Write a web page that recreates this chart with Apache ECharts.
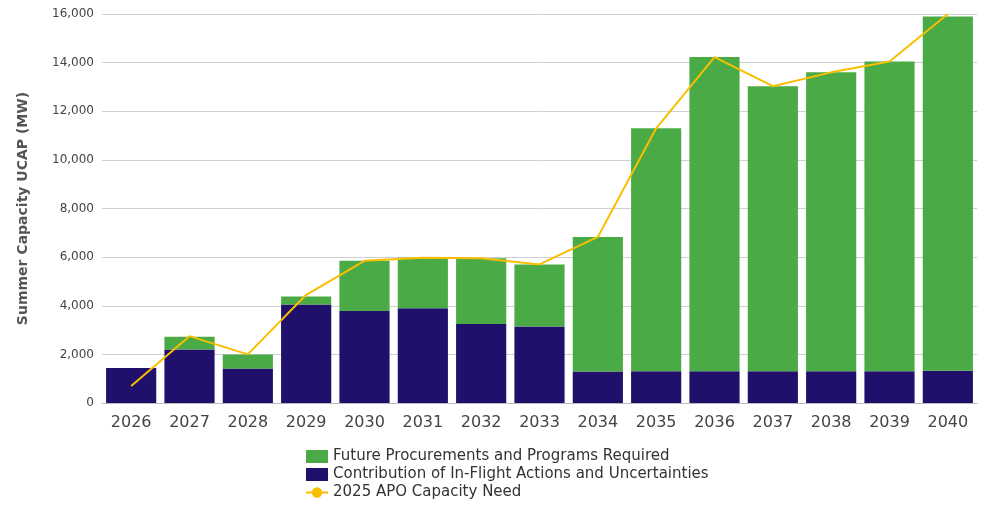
<!DOCTYPE html>
<html><head><meta charset="utf-8">
<script src="https://cdn.jsdelivr.net/npm/echarts@6/dist/echarts.min.js"></script>
<style>html,body{margin:0;padding:0;background:#fff}#c{width:991px;height:519px}</style>
</head><body><div id="c"></div>
<script>
const years = ['2026','2027','2028','2029','2030','2031','2032','2033','2034','2035','2036','2037','2038','2039','2040'];
const inFlight = [1440,2200,1420,4050,3780,3900,3250,3150,1300,1310,1310,1310,1310,1310,1330];
const future = [0,530,580,330,2070,2070,2700,2550,5530,9990,12920,11720,12290,12740,14570];
const need = [700,2750,2000,4450,5850,5970,5950,5700,6830,11300,14230,13030,13600,14050,16000];
const yTicks = [0,2000,4000,6000,8000,10000,12000,14000,16000];
const font = 'DejaVu Sans';
const chart = echarts.init(document.getElementById('c'));
chart.setOption({
  animation:false,
  textStyle:{fontFamily:font},
  grid:{left:102,right:14,top:14,bottom:116},
  legend:{orient:'vertical',left:300,top:444,itemGap:3,itemWidth:22,itemHeight:13,
    textStyle:{fontSize:15,color:'#333',fontFamily:font},
    data:[{name:'Future Procurements and Programs Required',icon:'rect'},
          {name:'Contribution of In-Flight Actions and Uncertainties',icon:'rect'},
          {name:'2025 APO Capacity Need'}]},
  xAxis:{type:'category',data:years,axisTick:{show:false},
    axisLine:{lineStyle:{color:'#bbb'}},
    axisLabel:{fontSize:16,color:'#444',margin:12}},
  yAxis:{type:'value',min:0,max:16000,interval:2000,
    name:'Summer Capacity UCAP (MW)',nameLocation:'middle',nameGap:72,
    nameTextStyle:{fontSize:14,fontWeight:'bold',color:'#555'},
    axisLabel:{fontSize:12,color:'#444',formatter:v=>yTicks.includes(v)?v.toLocaleString('en-US'):''},
    splitLine:{lineStyle:{color:'#d0d0d0'}}},
  series:[
    {name:'Contribution of In-Flight Actions and Uncertainties',type:'bar',stack:'s',data:inFlight,
      itemStyle:{color:'#200f6b'},barCategoryGap:'14%'},
    {name:'Future Procurements and Programs Required',type:'bar',stack:'s',data:future,
      itemStyle:{color:'#4aab46'}},
    {name:'2025 APO Capacity Need',type:'line',data:need,symbol:'none',
      lineStyle:{color:'#f9be00',width:2},itemStyle:{color:'#f9be00'}}
  ]
});
</script></body></html>
